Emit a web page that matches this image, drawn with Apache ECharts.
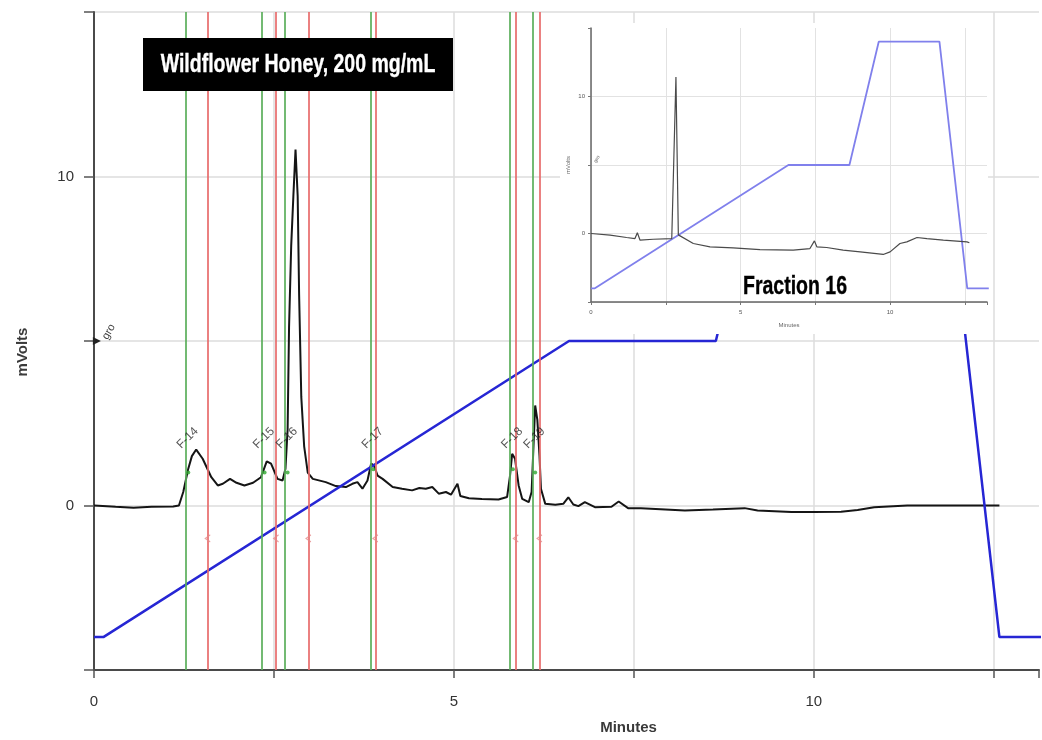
<!DOCTYPE html>
<html>
<head>
<meta charset="utf-8">
<script src="https://cdn.jsdelivr.net/npm/echarts@6/dist/echarts.min.js"></script>
<style>
  html, body { margin: 0; padding: 0; background: #fff; }
  #chart { width: 1042px; height: 740px; }
</style>
</head>
<body>
<div id="chart"></div>
<script>
  // detector trace, [minutes, mVolts]
  const traceMain = [[0,0],[0.3,-0.04],[0.55,-0.07],[0.8,-0.04],[1.1,-0.03],[1.18,0],[1.24,0.41],[1.31,1.12],[1.36,1.5],[1.42,1.7],
    [1.51,1.42],[1.63,0.86],[1.72,0.61],[1.79,0.66],[1.89,0.81],[1.98,0.69],[2.09,0.61],[2.21,0.69],[2.32,0.86],[2.4,1.34],
    [2.46,1.27],[2.55,0.81],[2.62,0.76],[2.66,1.12],[2.69,2.3],[2.71,5.4],[2.74,7.9],[2.77,9.4],[2.8,10.82],[2.83,9.4],
    [2.85,6.4],[2.88,3.3],[2.92,1.8],[2.97,1.0],[3.04,0.81],[3.22,0.71],[3.36,0.59],[3.5,0.56],[3.59,0.66],[3.66,0.71],
    [3.73,0.51],[3.8,0.76],[3.85,1.27],[3.89,1.22],[3.94,0.91],[4.01,0.81],[4.15,0.56],[4.28,0.51],[4.42,0.46],[4.52,0.53],
    [4.61,0.51],[4.7,0.56],[4.79,0.36],[4.89,0.41],[4.96,0.33],[5.05,0.66],[5.09,0.29],[5.21,0.22],[5.39,0.2],[5.62,0.18],
    [5.74,0.26],[5.78,0.9],[5.81,1.57],[5.85,1.42],[5.9,0.61],[5.95,0.2],[6.04,0.1],[6.08,0.41],[6.11,2.0],[6.13,3.04],
    [6.16,2.6],[6.19,1.5],[6.21,0.51],[6.27,0.05],[6.41,0.02],[6.52,0.05],[6.59,0.25],[6.66,0.03],[6.73,-0.02],[6.82,0.1],
    [6.96,-0.05],[7.19,-0.04],[7.29,0.12],[7.42,-0.08],[7.6,-0.08],[8.21,-0.15],[8.6,-0.12],[9.04,-0.08],[9.22,-0.15],[9.69,-0.2],
    [10.0,-0.2],[10.38,-0.19],[10.61,-0.14],[10.84,-0.05],[11.3,0],[12.0,0],[12.58,0]]

  // gradient program (same for both runs)
  const gradTime = [0, 0.13, 6.6, 8.64, 9.62, 11.65, 12.58, 13.3]
  const gradLevel = [-4, -4, 5, 5, 14, 14, -4, -4]

  // inset: fraction 16 re-injected
  const insetTime = [0,0.64,1.19,1.47,1.55,1.64,2.08,2.7,2.75,2.84,2.92,2.98,3.42,3.98,4.75,5.65,6.76,7.32,7.47,7.55,7.88,8.43,9.0,9.77,10.0,10.33,10.56,10.9,11.23,11.78,12.57,12.65]
  const insetMv = [0,-0.12,-0.29,-0.37,0.05,-0.49,-0.42,-0.37,-0.3,11.43,-0.1,-0.24,-0.73,-0.97,-1.05,-1.17,-1.22,-1.1,-0.54,-0.97,-1.02,-1.22,-1.34,-1.53,-1.34,-0.73,-0.61,-0.29,-0.37,-0.49,-0.61,-0.68]

  // fraction windows
  const fractionNames = ['F-14', 'F-15', 'F-16', 'F-17', 'F-18', 'F-19']
  const fractionStarts = [1.27, 2.33, 2.65, 3.84, 5.78, 6.09]
  const fractionEnds = [1.58, 2.53, 2.98, 3.91, 5.86, 6.19]
  const startDotMv = [1.0, 1.0, 1.0, 1.1, 1.1, 1.0]

  const xLabels = [0, 5, 10]
  const yLabels = [0, 10]

  const GREEN = '#5aae5a'
  const RED = '#e86b6b'
  const SANS = 'Liberation Sans'

  const chart = echarts.init(document.getElementById('chart'))

  var gradData = []
  for (var i = 0; i < gradTime.length; i++) {
    gradData.push([gradTime[i], gradLevel[i]])
  }
  var insetData = []
  for (var i = 0; i < insetTime.length; i++) {
    insetData.push([insetTime[i], insetMv[i]])
  }

  var fracLines = []
  for (var i = 0; i < fractionStarts.length; i++) {
    fracLines.push({ xAxis: fractionStarts[i], lineStyle: { color: GREEN } })
    fracLines.push({ xAxis: fractionEnds[i], lineStyle: { color: RED } })
  }
  var fracLabels = fractionNames.map(function (n, i) {
    return { name: n, value: [fractionStarts[i] + 0.03, 2.05] }
  })
  var startDots = fractionStarts.map(function (t, i) { return [t + 0.04, startDotMv[i]] })
  var endMarks = fractionEnds.map(function (t) { return [t, -1.0] })

  const xFmt = function (v) { return xLabels.indexOf(Math.round(v * 100) / 100) >= 0 ? String(v) : '' }
  const yFmt = function (v) { return yLabels.indexOf(v) >= 0 ? String(v) : '' }

  chart.setOption({
    backgroundColor: '#fff',
    animation: false,
    grid: [
      { left: 94, top: 12, right: 0, bottom: 70 },
      { left: 591, top: 28, width: 396, height: 274 }
    ],
    xAxis: [{
      type: 'value', gridIndex: 0, min: 0, max: 13.13, interval: 2.5,
      name: 'Minutes', nameLocation: 'middle', nameGap: 50,
      nameTextStyle: { fontSize: 15, fontWeight: 'bold', color: '#3a3a3a', fontFamily: SANS, padding: [0, 0, 0, 124] },
      axisLine: { onZero: false, lineStyle: { color: '#4a4a4a', width: 2 } },
      axisTick: { length: 8, lineStyle: { color: '#555', width: 1.5 } },
      axisLabel: { formatter: xFmt, fontSize: 15, color: '#333', margin: 24, fontFamily: SANS },
      splitLine: { show: true, showMaxLine: false, lineStyle: { color: '#dcdcdc', width: 1.5 } }
    }, {
      type: 'value', gridIndex: 1, min: 0, max: 13.24, interval: 2.5, z: 60,
      name: 'Minutes', nameLocation: 'middle', nameGap: 20,
      nameTextStyle: { fontSize: 6, color: '#666' },
      axisLine: { onZero: false, lineStyle: { color: '#666', width: 1.5 } },
      axisTick: { length: 3, lineStyle: { color: '#777' } },
      axisLabel: { formatter: xFmt, fontSize: 6, color: '#555', margin: 7 },
      splitLine: { show: true, showMaxLine: false, lineStyle: { color: '#e2e2e2', width: 1 } }
    }],
    yAxis: [{
      type: 'value', gridIndex: 0, min: -5, max: 15, interval: 5,
      name: 'mVolts', nameLocation: 'middle', nameGap: 64,
      nameTextStyle: { fontSize: 15, fontWeight: 'bold', color: '#3a3a3a', fontFamily: SANS, padding: [0, 22, 0, 0] },
      axisLine: { onZero: false, lineStyle: { color: '#4a4a4a', width: 2 } },
      axisTick: { length: 10, lineStyle: { color: '#555', width: 1.5 } },
      axisLabel: { formatter: yFmt, fontSize: 15, color: '#333', margin: 20, fontFamily: SANS },
      splitLine: { show: true, lineStyle: { color: '#dcdcdc', width: 1.5 } }
    }, {
      type: 'value', gridIndex: 1, min: -5, max: 15, interval: 5, z: 60,
      name: 'mVolts', nameLocation: 'middle', nameGap: 20,
      nameTextStyle: { fontSize: 6, color: '#666' },
      axisLine: { onZero: false, lineStyle: { color: '#666', width: 1.5 } },
      axisTick: { length: 3, lineStyle: { color: '#777' } },
      axisLabel: { formatter: yFmt, fontSize: 6, color: '#555', margin: 6 },
      splitLine: { show: true, showMaxLine: false, lineStyle: { color: '#e2e2e2', width: 1 } }
    }],
    graphic: [
      // white backing of the inset picture
      { type: 'rect', z: 50, shape: { x: 560, y: 23, width: 428, height: 311 }, style: { fill: '#fff' } },
      { type: 'rect', z: 100, shape: { x: 143, y: 38, width: 310, height: 53 }, style: { fill: '#000' } },
      { type: 'text', z: 101, x: 298, y: 65, scaleX: 0.78,
        style: { text: 'Wildflower Honey, 200 mg/mL', fill: '#fff', stroke: '#fff', lineWidth: 0.35,
          fontSize: 25, fontWeight: 'bold', fontFamily: SANS,
          align: 'center', verticalAlign: 'middle', textAlign: 'center', textVerticalAlign: 'middle' } },
      { type: 'text', z: 101, x: 795, y: 287, scaleX: 0.78,
        style: { text: 'Fraction 16', fill: '#000', stroke: '#000', lineWidth: 0.35,
          fontSize: 25, fontWeight: 'bold', fontFamily: SANS,
          align: 'center', verticalAlign: 'middle', textAlign: 'center', textVerticalAlign: 'middle' } },
      { type: 'text', z: 10, x: 100, y: 336, rotation: Math.PI / 3,
        style: { text: 'gro', fill: '#444', fontSize: 11, fontFamily: SANS } },
      { type: 'text', z: 70, x: 593, y: 161, rotation: Math.PI / 3,
        style: { text: 'gro', fill: '#666', fontSize: 5 } }
    ],
    series: [{
      name: 'signal',
      type: 'line',
      xAxisIndex: 0, yAxisIndex: 0,
      data: traceMain,
      symbol: 'none',
      z: 3,
      lineStyle: { color: '#151515', width: 2 },
      markLine: {
        silent: true,
        symbol: ['none', 'none'],
        label: { show: false },
        lineStyle: { type: 'solid', width: 2, opacity: 0.85 },
        data: fracLines
      }
    }, {
      name: 'gradient',
      type: 'line',
      xAxisIndex: 0, yAxisIndex: 0,
      data: gradData,
      symbol: 'none',
      z: 4,
      lineStyle: { color: '#2626d4', width: 2.5 },
      markPoint: {
        silent: true,
        symbol: 'triangle', symbolSize: 8, symbolRotate: -90,
        itemStyle: { color: '#222' },
        label: { show: false },
        data: [{ coord: [0.04, 5] }]
      }
    }, {
      name: 'fractions',
      type: 'scatter',
      xAxisIndex: 0, yAxisIndex: 0,
      data: fracLabels,
      symbolSize: 0,
      z: 6,
      label: {
        show: true, position: 'inside', rotate: 45,
        formatter: '{b}', fontSize: 12, color: '#2a2a2a', fontFamily: SANS
      }
    }, {
      name: 'starts',
      type: 'scatter',
      xAxisIndex: 0, yAxisIndex: 0,
      data: startDots,
      symbolSize: 4,
      z: 6,
      itemStyle: { color: '#2fa82f' }
    }, {
      name: 'ends',
      type: 'scatter',
      xAxisIndex: 0, yAxisIndex: 0,
      data: endMarks,
      symbol: 'path://M8,0 L0,5 L8,10',
      symbolSize: [5, 7],
      z: 6,
      itemStyle: { color: 'none', borderColor: '#e58a8a', borderWidth: 1 }
    }, {
      name: 'inset gradient',
      type: 'line',
      xAxisIndex: 1, yAxisIndex: 1,
      data: gradData,
      symbol: 'none',
      z: 61,
      lineStyle: { color: '#8080ec', width: 1.8 },
      markPoint: {
        silent: true,
        symbol: 'triangle', symbolSize: 4, symbolRotate: -90,
        itemStyle: { color: '#444' },
        label: { show: false },
        data: [{ coord: [0.05, 5] }]
      }
    }, {
      name: 'inset signal',
      type: 'line',
      xAxisIndex: 1, yAxisIndex: 1,
      data: insetData,
      symbol: 'none',
      z: 62,
      lineStyle: { color: '#4a4a4a', width: 1.2 }
    }]
  })
</script>
</body>
</html>
